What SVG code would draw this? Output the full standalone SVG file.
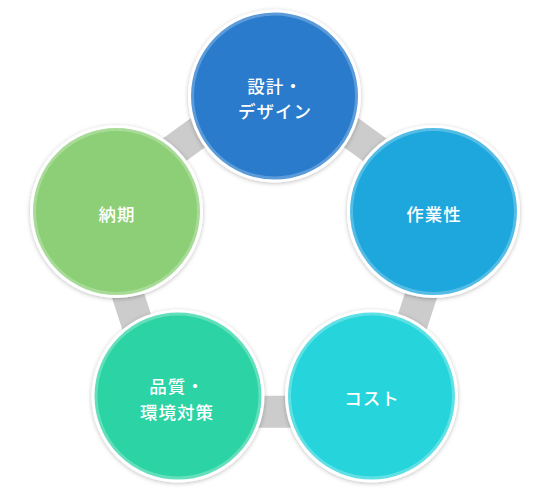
<svg xmlns="http://www.w3.org/2000/svg" width="549" height="490" viewBox="0 0 549 490">
<defs>
<filter id="sh" x="-20%" y="-20%" width="140%" height="140%">
<feDropShadow dx="0" dy="1" stdDeviation="2" flood-color="#000" flood-opacity="0.25"/>
</filter>
</defs>
<style>
.base{fill:#fff;filter:url(#sh)}
.in{stroke-width:3}
.t{fill:#fff;font-family:"Noto Sans CJK JP","Noto Sans",sans-serif;font-size:17.5px;font-weight:500;text-anchor:middle;letter-spacing:1px}
</style>
<rect width="549" height="490" fill="#fff"/>
<g id="connectors">
<polygon points="274.5,77 450.4,204.8 383.2,411.7 165.8,411.7 98.6,204.8" fill="none" stroke="#cccccc" stroke-width="32" stroke-linejoin="miter"/>
</g>
<g id="node-design">
<circle class="base" cx="274.5" cy="96" r="86.5"/>
<circle class="in" cx="274.5" cy="96" r="82" fill="#2a7bcb" stroke="#5b9bd9"/>
<text class="t" x="275" y="93">設計・</text>
<text class="t" x="275" y="118">デザイン</text>
</g>
<g id="node-work">
<circle class="base" cx="433.5" cy="211.5" r="86.5"/>
<circle class="in" cx="433.5" cy="211.5" r="82" fill="#1ea7dc" stroke="#55bde5"/>
<text class="t" x="434" y="221">作業性</text>
</g>
<g id="node-cost">
<circle class="base" cx="371.5" cy="396" r="86.5"/>
<circle class="in" cx="371.5" cy="396" r="82" fill="#26d4dc" stroke="#5ee0e5"/>
<text class="t" x="372" y="405">コスト</text>
</g>
<g id="node-quality">
<circle class="base" cx="178" cy="396" r="86.5"/>
<circle class="in" cx="178" cy="396" r="82" fill="#2cd3a5" stroke="#63dfbc"/>
<text class="t" x="177" y="393">品質・</text>
<text class="t" x="177" y="419">環境対策</text>
</g>
<g id="node-delivery">
<circle class="base" cx="116.5" cy="211.5" r="86.5"/>
<circle class="in" cx="116.5" cy="211.5" r="82" fill="#8ccf76" stroke="#a8db97"/>
<text class="t" x="117" y="221">納期</text>
</g>
</svg>
